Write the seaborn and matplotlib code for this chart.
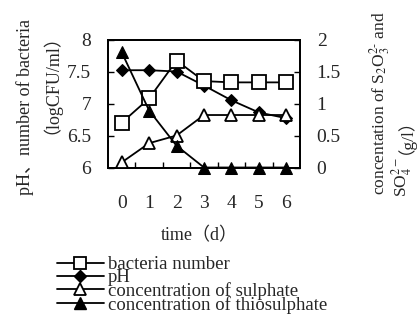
import matplotlib
matplotlib.use("Agg")
import matplotlib.pyplot as plt
import seaborn as sns
import pandas as pd
from matplotlib.lines import Line2D
from matplotlib.ticker import FixedLocator

# Culture time course
days = [0, 1, 2, 3, 4, 5, 6]
bacteria = [6.70, 7.08, 7.67, 7.35, 7.33, 7.33, 7.33]      # logCFU/ml
ph = [7.52, 7.52, 7.50, 7.28, 7.05, 6.86, 6.77]
sulphate = [0.08, 0.38, 0.50, 0.82, 0.82, 0.82, 0.82]        # g/l
thiosulphate = [1.80, 0.89, 0.34, 0.0, 0.0, 0.0, 0.0]        # g/l

left_ticks = [6, 6.5, 7, 7.5, 8]
right_ticks = [0, 0.5, 1, 1.5, 2]

legend_labels = ["bacteria number", "pH",
                 "concentration of sulphate", "concentration of thiosulphate"]

df = pd.DataFrame({"day": days, "bacteria": bacteria, "ph": ph,
                   "sulphate": sulphate, "thiosulphate": thiosulphate})

sns.set_theme(style="white")
plt.rcParams["font.family"] = ["Liberation Serif", "Noto Sans CJK SC"]
plt.rcParams["mathtext.fontset"] = "stix"

W, H = 417, 320
fig = plt.figure(figsize=(W / 100, H / 100), dpi=100)
ax = fig.add_axes([108 / W, 1 - 167.5 / H, 192 / W, 128 / H])
ax2 = ax.twinx()

lw = 1.3
sns.lineplot(data=df, x="day", y="ph", ax=ax, color="black", lw=lw,
             marker="D", markersize=6.5, markerfacecolor="black",
             markeredgecolor="black", zorder=3)
sns.lineplot(data=df, x="day", y="bacteria", ax=ax, color="black", lw=lw,
             marker="s", markersize=10, markerfacecolor="white",
             markeredgecolor="black", markeredgewidth=1.3, zorder=4)
sns.lineplot(data=df, x="day", y="sulphate", ax=ax2, color="black", lw=lw,
             marker="^", markersize=9, markerfacecolor="white",
             markeredgecolor="black", markeredgewidth=1.3, zorder=3,
             clip_on=False)
sns.lineplot(data=df, x="day", y="thiosulphate", ax=ax2, color="black", lw=lw,
             marker="^", markersize=9, markerfacecolor="black",
             markeredgecolor="black", zorder=4, clip_on=False)

ax.set_xlim(-0.5, 6.5)
ax.set_ylim(6, 8)
ax2.set_ylim(0, 2)

ax.set_xlabel("")
ax.set_ylabel("")
ax2.set_ylabel("")

tick_fs = 14
ax.xaxis.set_major_locator(FixedLocator(days))
ax.xaxis.set_minor_locator(FixedLocator([d + 0.5 for d in days[:-1]]))
ax.set_xticklabels([str(d) for d in days])
ax.tick_params(axis="x", which="major", length=0, pad=20, labelsize=tick_fs,
               bottom=True, top=False)
ax.tick_params(axis="x", which="minor", direction="in", length=4, width=1,
               bottom=True, top=False, color="black")

ax.set_yticks(left_ticks)
ax.set_yticklabels([f"{v:g}" for v in left_ticks])
ax.tick_params(axis="y", which="major", direction="in", length=4, width=1,
               left=True, right=False, pad=12, labelsize=tick_fs,
               color="black")

ax2.set_yticks(right_ticks)
ax2.set_yticklabels([f"{v:g}" for v in right_ticks])
ax2.tick_params(axis="y", which="major", direction="in", length=4, width=1,
                right=True, left=False, pad=12, labelsize=tick_fs,
                color="black")

for a in (ax, ax2):
    for s in a.spines.values():
        s.set_visible(True)
        s.set_color("black")
        s.set_linewidth(1.3)


def vtext(x_base, y_start, s, size):
    """Vertical text reading upward, anchored at the start of its baseline."""
    return fig.text(x_base / W, 1 - y_start / H, s, rotation=90,
                    rotation_mode="anchor", ha="left", va="baseline",
                    fontsize=size)


vtext(30, 195, "pH、number of bacteria", 13)
vtext(47, 134, "（logCFU/ml）", 13)

vtext(385, 195, "concentation of S$_2$O$_3^{2\\text{-}}$ and", 12.5)
vtext(407, 197, "SO$_4^{2-}$", 12.5)
vtext(402, 154, "（g/l）", 12.5)

fig.text(199 / W, 1 - 236 / H, "time（d）", ha="center", va="center",
         fontsize=13)

handles = [
    Line2D([], [], color="black", lw=lw, marker="s", markersize=9,
           markerfacecolor="white", markeredgewidth=1.3),
    Line2D([], [], color="black", lw=lw, marker="D", markersize=6,
           markerfacecolor="black"),
    Line2D([], [], color="black", lw=lw, marker="^", markersize=8,
           markerfacecolor="white", markeredgewidth=1.3),
    Line2D([], [], color="black", lw=lw, marker="^", markersize=8,
           markerfacecolor="black"),
]
fig.legend(handles, legend_labels, loc="upper left",
           bbox_to_anchor=(57 / W, 1 - 256 / H), frameon=False,
           fontsize=13.5, handlelength=2.5, handletextpad=0.2,
           labelspacing=-0.22, borderpad=0, borderaxespad=0)

fig.savefig("out.png", dpi=100)
